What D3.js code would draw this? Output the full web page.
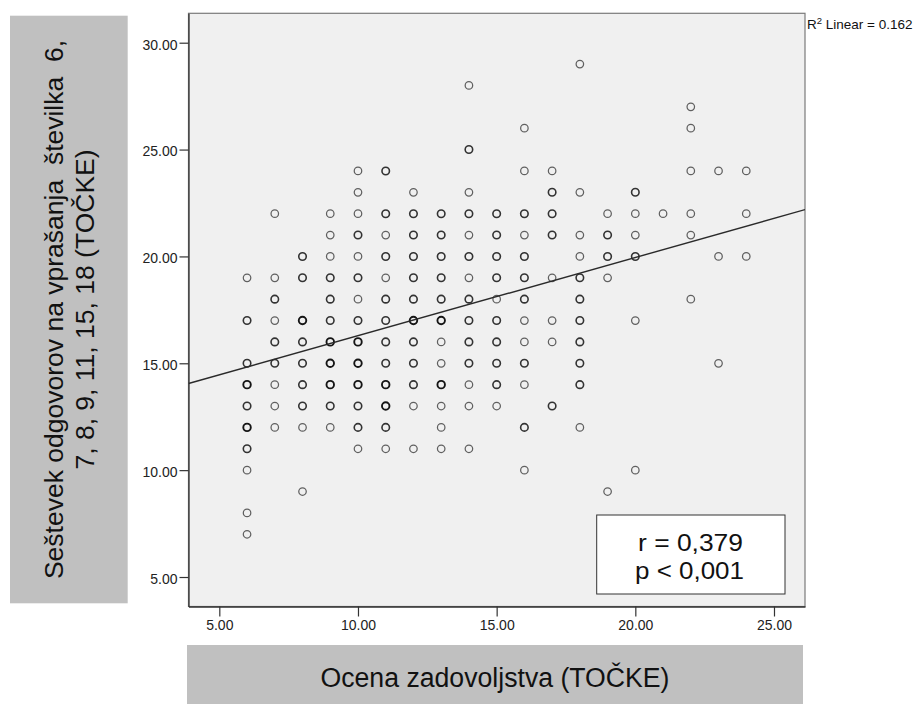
<!DOCTYPE html>
<html>
<head>
<meta charset="utf-8">
<script src="https://cdn.jsdelivr.net/npm/d3@7"></script>
<style>
  html, body { margin: 0; padding: 0; background: #ffffff; }
  svg { display: block; font-family: "Liberation Sans", Arial, sans-serif; }
</style>
</head>
<body>
<svg id="chart" width="921" height="704"></svg>
<script>
// ---------- data ----------
const xValues = [6, 7, 8, 9, 10, 11, 12, 13, 14, 15, 16, 17, 18, 19, 20, 21, 22, 23, 24];
const yValues = [
  [19, 17, 15, 14, 13, 12, 11, 10, 8, 7],
  [22, 19, 18, 17, 16, 15, 14, 13, 12],
  [20, 19, 17, 16, 15, 14, 13, 12, 9],
  [22, 21, 20, 19, 18, 17, 16, 15, 14, 13, 12],
  [24, 23, 22, 21, 20, 19, 18, 17, 16, 15, 14, 13, 12, 11],
  [24, 22, 21, 20, 19, 18, 17, 16, 15, 14, 13, 12, 11],
  [23, 22, 21, 20, 19, 18, 17, 16, 15, 14, 13, 11],
  [22, 21, 20, 19, 18, 17, 16, 15, 14, 13, 12, 11],
  [28, 25, 23, 22, 21, 20, 19, 18, 17, 16, 15, 14, 13, 11],
  [22, 21, 20, 19, 18, 17, 16, 15, 14, 13],
  [26, 24, 22, 21, 20, 19, 18, 17, 16, 15, 14, 12, 10],
  [24, 23, 22, 21, 19, 17, 16, 13],
  [29, 23, 21, 20, 19, 18, 17, 16, 15, 14, 12],
  [22, 21, 20, 19, 9],
  [23, 22, 21, 20, 17, 10],
  [22],
  [27, 26, 24, 22, 21, 18],
  [24, 20, 15],
  [24, 22, 20]
];
// estimated number of overlapping cases at each point (from darkness)
const overlapCounts = [
  [1, 2, 2, 3, 2, 3, 2, 1, 1, 1],
  [1, 1, 2, 1, 2, 2, 1, 1, 1],
  [2, 2, 3, 2, 2, 2, 2, 1, 1],
  [1, 1, 1, 2, 2, 2, 3, 3, 3, 2, 1],
  [1, 1, 1, 2, 1, 2, 1, 2, 3, 3, 3, 2, 2, 1],
  [2, 2, 1, 2, 1, 2, 2, 2, 2, 3, 3, 2, 1],
  [1, 2, 2, 2, 2, 2, 3, 2, 2, 2, 1, 1],
  [2, 2, 2, 2, 2, 3, 1, 1, 3, 1, 1, 1],
  [1, 2, 1, 2, 1, 2, 1, 2, 2, 2, 2, 1, 1, 1],
  [2, 2, 2, 2, 1, 2, 2, 2, 2, 1],
  [1, 1, 2, 1, 2, 2, 2, 1, 1, 2, 1, 2, 1],
  [1, 2, 2, 2, 1, 1, 1, 2],
  [1, 1, 1, 1, 2, 2, 2, 2, 2, 2, 1],
  [1, 2, 2, 1, 1],
  [2, 1, 1, 2, 1, 1],
  [1],
  [1, 1, 1, 1, 1, 1],
  [1, 1, 1],
  [1, 1, 1]
];
const xTicks = [5, 10, 15, 20, 25];
const yTicks = [5, 10, 15, 20, 25, 30];
const fitIntercept = 12.63;
const fitSlope = 0.366;
const rSquaredText = "0.162";
const statLines = ["r = 0,379", "p < 0,001"];
const xTitle = "Ocena zadovoljstva (TOČKE)";
const yTitleLines = ["Seštevek odgovorov na vprašanja  številka  6,", "7, 8, 9, 11, 15, 18 (TOČKE)"];

// ---------- layout ----------
const plot = { left: 188.5, right: 805, top: 13.3, bottom: 606.5 };
const svg = d3.select("#chart");

const x = d3.scaleLinear().domain([3.889, 26.118]).range([plot.left, plot.right]);
const y = d3.scaleLinear().domain([3.62, 31.376]).range([plot.bottom, plot.top]);

// y title box
svg.append("rect").attr("x", 10).attr("y", 15.7).attr("width", 117.7).attr("height", 587.6)
  .attr("fill", "#c0c0c0");
const yt = svg.append("text")
  .attr("transform", "translate(0,309.5) rotate(-90)")
  .attr("text-anchor", "middle")
  .attr("font-size", 26.5)
  .attr("fill", "#111")
  .style("white-space", "pre");
yt.append("tspan").attr("x", 0).attr("y", 63).text(yTitleLines[0]);
yt.append("tspan").attr("x", 0).attr("y", 94).text(yTitleLines[1]);

// x title box
svg.append("rect").attr("x", 187).attr("y", 645).attr("width", 616).attr("height", 60)
  .attr("fill", "#c0c0c0");
svg.append("text").attr("x", 495).attr("y", 686.7)
  .attr("text-anchor", "middle").attr("font-size", 27).attr("fill", "#111")
  .attr("textLength", 349).attr("lengthAdjust", "spacingAndGlyphs")
  .text(xTitle);

// plot background
svg.append("rect")
  .attr("x", plot.left).attr("y", plot.top)
  .attr("width", plot.right - plot.left).attr("height", plot.bottom - plot.top)
  .attr("fill", "#f0f0f0").attr("stroke", "#7a7a7a").attr("stroke-width", 1.2);

// clip
svg.append("clipPath").attr("id", "clip").append("rect")
  .attr("x", plot.left).attr("y", plot.top)
  .attr("width", plot.right - plot.left).attr("height", plot.bottom - plot.top);

// axes
const yAxis = d3.axisLeft(y).tickValues(yTicks).tickSizeInner(9).tickSizeOuter(0).tickPadding(2)
  .tickFormat(d3.format(".2f"));
const gy = svg.append("g").attr("transform", `translate(${plot.left},0)`).call(yAxis);
gy.select(".domain").attr("stroke", "#333").attr("stroke-width", 1.3);
gy.selectAll(".tick line").attr("stroke", "#333").attr("stroke-width", 1.2);
gy.selectAll(".tick text").attr("font-size", 14).attr("fill", "#222")
  .attr("font-family", "'Liberation Sans', Arial, sans-serif").attr("dy", "0.45em");

const xAxis = d3.axisBottom(x).tickValues(xTicks).tickSizeInner(10).tickSizeOuter(0).tickPadding(4)
  .tickFormat(d3.format(".2f"));
const gx = svg.append("g").attr("transform", `translate(0,${plot.bottom})`).call(xAxis);
gx.select(".domain").attr("stroke", "#333").attr("stroke-width", 1.3);
gx.selectAll(".tick line").attr("stroke", "#333").attr("stroke-width", 1.2);
gx.selectAll(".tick text").attr("font-size", 14).attr("fill", "#222")
  .attr("font-family", "'Liberation Sans', Arial, sans-serif").attr("dy", "0.71em");

// points
const points = [];
xValues.forEach((xv, i) => {
  yValues[i].forEach((yv, j) => points.push({ x: xv, y: yv, n: overlapCounts[i][j] }));
});
const strokeByCount = { 1: "#606060", 2: "#333333", 3: "#151515" };
const widthByCount = { 1: 1.25, 2: 1.6, 3: 1.9 };
svg.append("g").attr("clip-path", "url(#clip)")
  .selectAll("circle").data(points).join("circle")
  .attr("cx", d => x(d.x)).attr("cy", d => y(d.y)).attr("r", 3.75)
  .attr("fill", "none")
  .attr("stroke", d => strokeByCount[d.n])
  .attr("stroke-width", d => widthByCount[d.n]);

// fit line
const xd = x.domain();
svg.append("line").attr("clip-path", "url(#clip)")
  .attr("x1", x(xd[0])).attr("y1", y(fitIntercept + fitSlope * xd[0]))
  .attr("x2", x(xd[1])).attr("y2", y(fitIntercept + fitSlope * xd[1]))
  .attr("stroke", "#2a2a2a").attr("stroke-width", 1.4);

// R2 label
const r2 = svg.append("text").attr("x", 807).attr("y", 29.3).attr("font-size", 13.5).attr("fill", "#111");
r2.append("tspan").text("R");
r2.append("tspan").attr("font-size", 9.5).attr("dy", -5).text("2");
r2.append("tspan").attr("dy", 5).text(" Linear = " + rSquaredText);

// stat box
svg.append("rect").attr("x", 596.7).attr("y", 515).attr("width", 188.3).attr("height", 79)
  .attr("fill", "#ffffff").attr("stroke", "#333").attr("stroke-width", 1);
svg.append("text").attr("x", 690.5).attr("y", 550.7).attr("text-anchor", "middle")
  .attr("font-size", 23.5).attr("fill", "#111")
  .attr("textLength", 105).attr("lengthAdjust", "spacingAndGlyphs").text(statLines[0]);
svg.append("text").attr("x", 689.5).attr("y", 579).attr("text-anchor", "middle")
  .attr("font-size", 23.5).attr("fill", "#111")
  .attr("textLength", 109).attr("lengthAdjust", "spacingAndGlyphs").text(statLines[1]);
</script>
</body>
</html>
